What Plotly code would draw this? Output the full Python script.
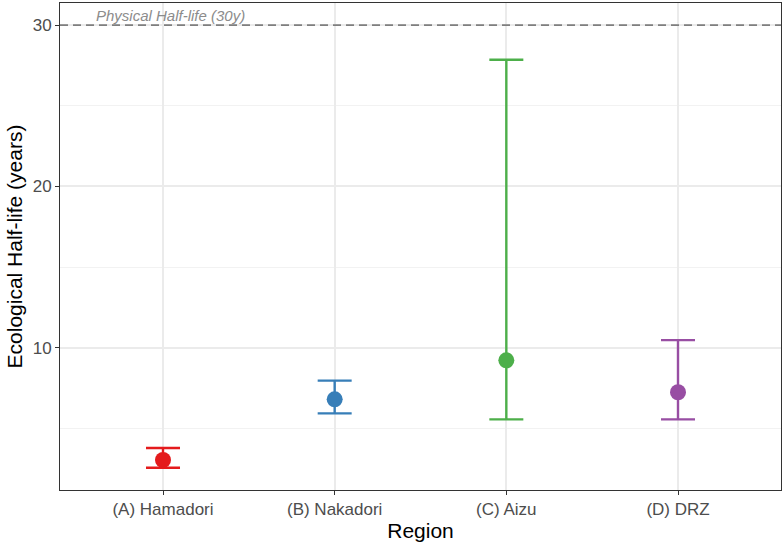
import plotly.graph_objects as go

regions = ["(A) Hamadori", "(B) Nakadori", "(C) Aizu", "(D) DRZ"]
half_life = [3.04, 6.80, 9.22, 7.24]
ci_low = [2.56, 5.93, 5.56, 5.56]
ci_high = [3.78, 7.96, 27.85, 10.47]
colors = ["#E41A1C", "#377EB8", "#4DAF4A", "#984EA3"]
physical_half_life = 30

fig = go.Figure()
for i, r in enumerate(regions):
    fig.add_trace(go.Scatter(
        x=[r], y=[half_life[i]], mode="markers",
        marker=dict(color=colors[i], size=16),
        error_y=dict(type="data", symmetric=False,
                     array=[ci_high[i] - half_life[i]],
                     arrayminus=[half_life[i] - ci_low[i]],
                     color=colors[i], thickness=2.4, width=17),
        showlegend=False,
    ))

fig.add_shape(type="line", xref="paper", x0=0, x1=1, yref="y",
              y0=physical_half_life, y1=physical_half_life,
              line=dict(color="#7f7f7f", width=1.8, dash="8px,5px"))
fig.add_annotation(x=-0.4, y=physical_half_life, xref="x", yref="y",
                   text="<i>Physical Half-life (30y)</i>", showarrow=False,
                   xanchor="left", yanchor="bottom", yshift=-1,
                   font=dict(size=15, color="#8c8c8c"))

fig.update_layout(
    width=784, height=547,
    margin=dict(l=60, r=3, t=3, b=57),
    paper_bgcolor="white", plot_bgcolor="white",
    font=dict(family="Liberation Sans, Arial, sans-serif", color="#4d4d4d"),
)
fig.update_xaxes(
    type="category", range=[-0.6, 3.6],
    categoryorder="array", categoryarray=regions,
    showgrid=True, gridcolor="#ebebeb", gridwidth=1.5,
    showline=True, linecolor="#333333", linewidth=1, mirror=True,
    ticks="outside", ticklen=4, tickcolor="#333333",
    tickfont=dict(size=17, color="#4d4d4d"),
    title=dict(text="Region", font=dict(size=21, color="black"), standoff=4),
    zeroline=False,
)
fig.update_yaxes(
    range=[1.18, 31.37], tickvals=[10, 20, 30],
    showgrid=True, gridcolor="#ebebeb", gridwidth=1.5,
    minor=dict(tickvals=[5, 15, 25], showgrid=True, gridcolor="#f2f2f2", gridwidth=0.8, ticks=""),
    showline=True, linecolor="#333333", linewidth=1, mirror=True,
    ticks="outside", ticklen=4, tickcolor="#333333",
    tickfont=dict(size=17, color="#4d4d4d"),
    title=dict(text="Ecological Half-life (years)", font=dict(size=21, color="black"), standoff=4),
    zeroline=False,
)

fig.write_html("out.html")
